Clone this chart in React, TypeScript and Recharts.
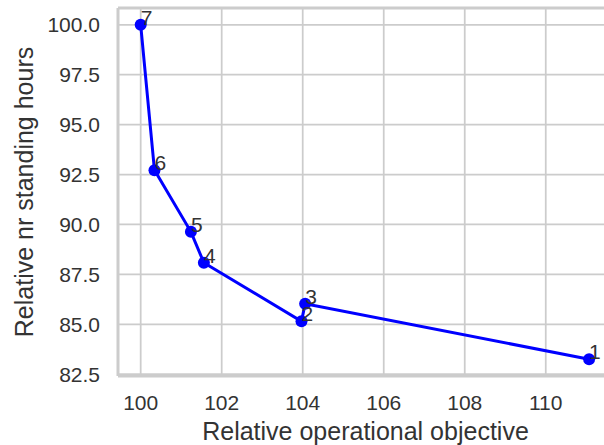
import {
  LineChart,
  Line,
  XAxis,
  YAxis,
  CartesianGrid,
  ReferenceLine,
  LabelList,
} from "recharts";

// Solutions in the order the front is traced
const SOLUTION_IDS = ["7", "6", "5", "4", "2", "3", "1"];
const OPERATIONAL = [100.0, 100.34, 101.24, 101.56, 103.97, 104.06, 111.07];
const STANDING_HOURS = [100.0, 92.72, 89.63, 88.08, 85.15, 86.03, 83.25];

const X_TICKS = [100, 102, 104, 106, 108, 110];
const Y_TICKS = [82.5, 85.0, 87.5, 90.0, 92.5, 95.0, 97.5, 100.0];

const X_DOMAIN: [number, number] = [99.44, 111.66];
const Y_DOMAIN: [number, number] = [82.41, 100.84];

const data = SOLUTION_IDS.map((id, i) => ({
  id,
  x: OPERATIONAL[i],
  y: STANDING_HOURS[i],
}));

const FONT = "'Liberation Sans', Arial, sans-serif";
const TEXT = "#333333";
const GRID = "#cccccc";

const PLOT_TOP = 8;
const PLOT_BOTTOM = 376;

export default function App() {
  return (
    <div
      style={{
        position: "fixed",
        left: 0,
        top: 0,
        width: 604,
        height: 445,
        overflow: "hidden",
        background: "#fff",
        fontFamily: FONT,
      }}
    >
      <LineChart
        width={630}
        height={445}
        data={data}
        margin={{ top: PLOT_TOP, right: 17, bottom: 0, left: 0 }}
      >
        <CartesianGrid stroke={GRID} strokeWidth={1.75} />
        <XAxis
          type="number"
          dataKey="x"
          domain={X_DOMAIN}
          ticks={X_TICKS}
          allowDataOverflow
          height={445 - PLOT_BOTTOM}
          axisLine={{ stroke: GRID, strokeWidth: 3 }}
          tickLine={false}
          tickSize={0}
          tickMargin={19}
          tick={{ fontSize: 21, fill: TEXT, fontFamily: FONT }}
          label={{
            value: "Relative operational objective",
            position: "insideBottom",
            offset: 5,
            fontSize: 25,
            fill: TEXT,
            fontFamily: FONT,
          }}
        />
        <YAxis
          type="number"
          dataKey="y"
          domain={Y_DOMAIN}
          ticks={Y_TICKS}
          allowDataOverflow
          width={118}
          axisLine={{ stroke: GRID, strokeWidth: 3 }}
          tickLine={false}
          tickSize={0}
          tickMargin={18}
          tickFormatter={(v: number) => v.toFixed(1)}
          tick={{ fontSize: 21, fill: TEXT, fontFamily: FONT }}
          label={{
            value: "Relative nr standing hours",
            angle: -90,
            position: "insideLeft",
            offset: 24,
            fontSize: 25,
            fill: TEXT,
            fontFamily: FONT,
            style: { textAnchor: "middle" },
          }}
        />
        <ReferenceLine y={Y_DOMAIN[1]} stroke={GRID} strokeWidth={3} />
        <Line
          dataKey="y"
          stroke="#0000ff"
          strokeWidth={3}
          dot={{ r: 6, fill: "#0000ff", stroke: "none" }}
          activeDot={false}
          isAnimationActive={false}
        >
          <LabelList
            dataKey="id"
            content={(props: any) => (
              <text
                x={props.x}
                y={props.y}
                fontSize={21}
                fill={TEXT}
                fontFamily={FONT}
              >
                {props.value}
              </text>
            )}
          />
        </Line>
      </LineChart>
    </div>
  );
}
